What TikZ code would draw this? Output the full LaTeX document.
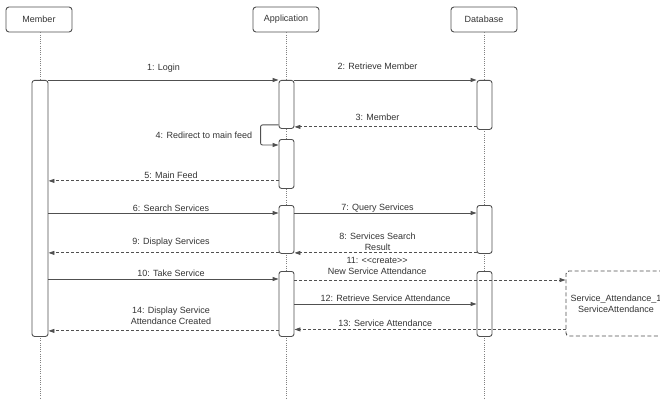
\documentclass[tikz,border=0pt]{standalone}
\usepackage{fontspec}
\setmainfont{Liberation Sans}
\usetikzlibrary{arrows.meta}
\definecolor{linegray}{HTML}{505050}
\definecolor{textgray}{HTML}{333333}
\tikzstyle{call}=[draw=linegray,line width=0.9pt,-{Triangle[length=6pt,width=4pt]}]
\tikzstyle{reply}=[call,dash pattern=on 3pt off 2pt]

\begin{document}
\begin{tikzpicture}[x=1pt,y=-1pt,font=\fontsize{9}{11}\selectfont,text=textgray]
\tikzstyle{actor}=[shape=rectangle,rounded corners=3pt,draw=linegray,line width=0.9pt,minimum width=66pt,minimum height=25pt,inner sep=0pt]
\tikzstyle{activation}=[shape=rectangle,rounded corners=2.5pt,draw=linegray,line width=0.9pt,fill=white,minimum width=15pt,anchor=north,inner sep=0pt]
\tikzstyle{lifeline}=[draw=gray,line width=0.8pt,dash pattern=on 1pt off 1.2pt]
\tikzstyle{msg}=[align=center,inner sep=0pt]
\useasboundingbox (0,0) rectangle (660,401);
% participants
\node[actor] (member) at (39,19.5) {Member};
\node[actor] (app) at (286,19.5) {Application};
\node[actor] (db) at (484,19.5) {Database};
% lifelines
\coordinate (memberEnd) at (40,398);
\coordinate (appEnd) at (286,398);
\coordinate (dbEnd) at (484,398);
\draw[lifeline] (member.south -| memberEnd) -- (memberEnd);
\draw[lifeline] (app.south -| appEnd) -- (appEnd);
\draw[lifeline] (db.south -| dbEnd) -- (dbEnd);
% activations
\node[activation,minimum width=16pt,minimum height=256pt] (mAct) at (40,80) {};
\node[activation,minimum height=48pt] (aAct1) at (286.5,80) {};
\node[activation,minimum height=49pt] (aAct2) at (286.5,139) {};
\node[activation,minimum height=48pt] (aAct3) at (286.5,205) {};
\node[activation,minimum height=65pt] (aAct4) at (286.5,271) {};
\node[activation,minimum height=49pt] (dAct1) at (484.5,80) {};
\node[activation,minimum height=48pt] (dAct2) at (484.5,205) {};
\node[activation,minimum height=65pt] (dAct3) at (484.5,271) {};
% created object
\node[rounded corners=3pt,draw=linegray,line width=0.9pt,dash pattern=on 4pt off 2.5pt,minimum width=100pt,minimum height=65pt,align=center,inner sep=0pt] (attendance) at (616,303.5) {Service\_Attendance\_1\\ServiceAttendance};
% login
\draw[call] (mAct.east |- aAct1.north) -- node[msg,yshift=12pt] {1: Login} (aAct1.north west);
\draw[call] (aAct1.north east) -- node[msg,xshift=-8pt,yshift=14pt] {2: Retrieve Member} (dAct1.north west);
\coordinate (m3) at ([yshift=3pt]dAct1.south west);
\draw[reply] (m3) -- node[msg,xshift=-8pt,yshift=10pt] {3: Member} (m3 -| aAct1.east);
\coordinate (m4) at ([yshift=4pt]aAct1.south west);
\coordinate (m4end) at ([yshift=-6pt]aAct2.north west);
\draw[call,rounded corners=2pt] (m4) -- ++(-18,0) |- node[msg,pos=.25,left=8pt] {4: Redirect to main feed} (m4end);
\coordinate (m5) at ([yshift=8pt]aAct2.south west);
\draw[reply] (m5) -- node[msg,xshift=7.5pt,yshift=6pt] {5: Main Feed} (m5 -| mAct.east);
% services
\coordinate (m6) at ([yshift=-8pt]aAct3.north west);
\draw[call] (m6 -| mAct.east) -- node[msg,xshift=7.5pt,yshift=5pt] {6: Search Services} (m6);
\coordinate (m7) at ([yshift=-8pt]aAct3.north east);
\draw[call] (m7) -- node[msg,xshift=-8pt,yshift=5pt] {7: Query Services} (m7 -| dAct2.west);
\coordinate (m8) at ([yshift=1pt]dAct2.south west);
\draw[reply] (m8) -- node[msg,xshift=-8pt,yshift=11.5pt] {8: Services Search\\Result} (m8 -| aAct3.east);
\coordinate (m9) at ([yshift=1pt]aAct3.south west);
\draw[reply] (m9) -- node[msg,xshift=7.5pt,yshift=11pt] {9: Display Services} (m9 -| mAct.east);
% attendance
\coordinate (m10) at ([yshift=-8pt]aAct4.north west);
\draw[call] (m10 -| mAct.east) -- node[msg,xshift=7.5pt,yshift=6pt] {10: Take Service} (m10);
\coordinate (m11) at ([yshift=-9pt]aAct4.north east);
\draw[reply] (m11) -- node[msg,pos=.305,yshift=14.5pt] {11: <{}<create>{}>\\New Service Attendance} (m11 -| attendance.west);
\coordinate (m12) at ([yshift=-33pt]aAct4.north east);
\draw[call] (m12) -- node[msg,yshift=6pt] {12: Retrieve Service Attendance} (m12 -| dAct3.west);
\coordinate (m13) at ([yshift=7pt]attendance.south west);
\draw[reply] (m13) -- node[msg,pos=.665,yshift=6pt] {13: Service Attendance} (m13 -| aAct4.east);
\coordinate (m14) at ([yshift=6pt]aAct4.south west);
\draw[reply] (m14) -- node[msg,xshift=7.5pt,yshift=15.5pt] {14: Display Service\\Attendance Created} (m14 -| mAct.east);
\end{tikzpicture}
\end{document}
